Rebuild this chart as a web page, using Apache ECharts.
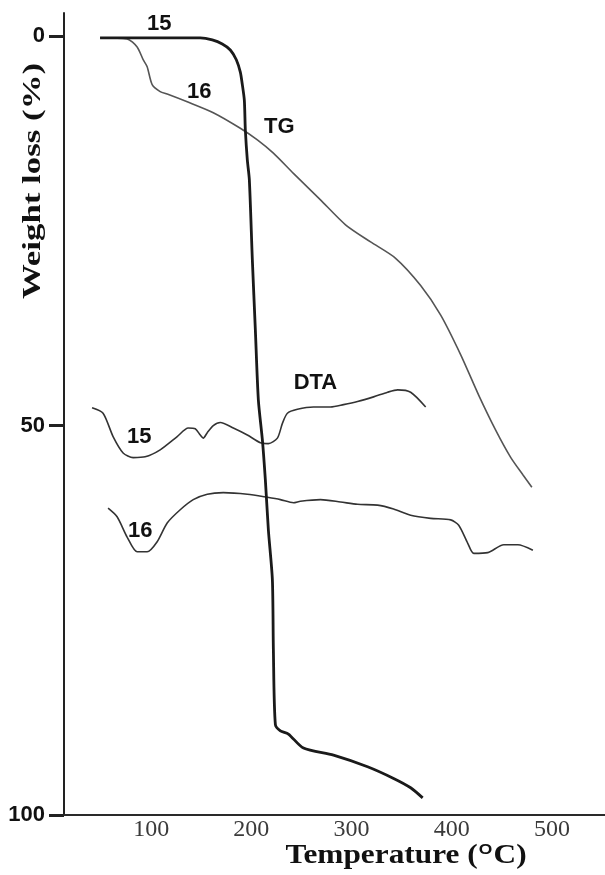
<!DOCTYPE html>
<html>
<head>
<meta charset="utf-8">
<script src="https://cdn.jsdelivr.net/npm/echarts@6/dist/echarts.min.js"></script>
<style>
  html, body { margin: 0; padding: 0; background: #fff; }
  #chart { width: 605px; height: 875px; }
</style>
</head>
<body>
<div id="chart"></div>
<script>
// Temperature (°C) vs. weight loss (%) for TG curves; DTA traces share the same frame.
const tg15 = [
  [49, 0.2], [99, 0.2], [149, 0.2], [161, 0.46], [171, 0.98], [179, 1.75], [185, 3.0],
  [189, 4.6], [191, 6.2], [193, 8.2], [194, 12.0], [196, 15.9], [198, 18.4], [201, 28.7],
  [204, 37.7], [207, 46.7], [211, 51.8], [214, 57.0], [217, 63.4], [221, 69.8], [222, 78.8],
  [224, 88.4], [229, 89.2], [237, 89.6], [252, 91.4], [282, 92.3], [316, 93.8], [342, 95.3],
  [359, 96.5], [371, 97.8]
];
const tg16 = [
  [49, 0.2], [76, 0.33], [86, 1.36], [92, 3.0], [96, 3.9], [101, 6.2], [109, 7.1], [116, 7.4],
  [136, 8.4], [162, 9.8], [189, 11.8], [206, 13.3], [222, 15.0], [242, 17.6], [269, 21.0],
  [294, 24.2], [319, 26.4], [344, 28.5], [369, 32.0], [389, 35.8], [409, 40.9], [427, 46.1],
  [444, 50.6], [459, 54.1], [471, 56.3], [480, 57.9]
];
const dta15 = [
  [41, 47.7], [52, 48.4], [62, 51.4], [72, 53.5], [82, 54.1], [94, 54.0], [109, 53.1],
  [126, 51.4], [137, 50.3], [144, 50.4], [149, 51.2], [152, 51.6], [156, 50.9], [162, 50.0],
  [169, 49.6], [182, 50.3], [196, 51.2], [209, 52.2], [217, 52.3], [226, 51.6], [231, 49.7],
  [236, 48.4], [246, 47.9], [262, 47.6], [279, 47.6], [292, 47.3], [306, 46.9], [322, 46.3],
  [336, 45.7], [346, 45.4], [359, 45.7], [374, 47.6]
];
const dta16 = [
  [57, 60.6], [66, 61.7], [76, 64.3], [86, 66.2], [96, 66.2], [106, 64.9], [116, 62.5],
  [129, 60.8], [142, 59.5], [156, 58.8], [172, 58.6], [196, 58.8], [216, 59.2], [229, 59.5],
  [242, 59.9], [249, 59.7], [269, 59.5], [289, 59.8], [306, 60.1], [326, 60.2], [342, 60.7],
  [359, 61.5], [379, 61.9], [399, 62.1], [407, 62.8], [416, 65.1], [422, 66.4], [436, 66.3],
  [452, 65.3], [466, 65.3], [481, 66.0]
];
const xTicks = [100, 200, 300, 400, 500];
const yTicks = [0, 50, 100];

// Curve annotations, placed in data units
const notes = [
  { text: '15', at: [108, -1.6] },
  { text: '16', at: [148, 7.1] },
  { text: 'TG', at: [228, 11.6] },
  { text: 'DTA', at: [264, 44.5] },
  { text: '15', at: [88, 51.4] },
  { text: '16', at: [89, 63.5] }
];

const chart = echarts.init(document.getElementById('chart'), null, { renderer: 'canvas' });

const lineSeries = (data, width, color, z) => ({
  type: 'line',
  data: data,
  showSymbol: false,
  smooth: 0.25,
  z: z,
  lineStyle: { width: width, color: color },
  emphasis: { disabled: true }
});

chart.setOption({
  animation: false,
  backgroundColor: '#fff',
  grid: { left: 64, right: 0, top: 13, bottom: 60 },
  xAxis: {
    type: 'value',
    position: 'bottom',
    min: 13,
    max: 553,
    axisLine: { onZero: false, lineStyle: { color: '#2a2a2a', width: 2 } },
    axisTick: { show: false },
    splitLine: { show: false },
    axisLabel: {
      customValues: xTicks,
      margin: 3,
      color: '#3a3a3a',
      fontFamily: 'Liberation Serif',
      fontSize: 24
    }
  },
  yAxis: {
    type: 'value',
    inverse: true,
    min: -3,
    max: 100,
    axisLine: { show: true, onZero: false, lineStyle: { color: '#222', width: 2 } },
    axisTick: { show: true, customValues: yTicks, length: 15, lineStyle: { color: '#222', width: 3 } },
    splitLine: { show: false },
    axisLabel: {
      customValues: yTicks,
      margin: 19,
      color: '#111',
      fontFamily: 'Liberation Sans',
      fontWeight: 'bold',
      fontSize: 22
    }
  },
  series: [
    lineSeries(tg16, 1.6, '#555', 2),
    lineSeries(dta15, 1.6, '#333', 2),
    lineSeries(dta16, 1.6, '#333', 2),
    lineSeries(tg15, 2.8, '#1a1a1a', 3)
  ]
});

const annotationFont = 'bold 22px "Liberation Sans", Arial, sans-serif';
const graphics = notes.map(n => {
  const p = chart.convertToPixel({ gridIndex: 0 }, n.at);
  return {
    type: 'text',
    x: p[0],
    y: p[1],
    z: 10,
    style: { text: n.text, font: annotationFont, fill: '#111', align: 'center', verticalAlign: 'middle' }
  };
});

// Vertical axis title, stretched along its reading direction
graphics.push({
  type: 'text',
  x: 33,
  y: 181,
  rotation: Math.PI / 2,
  scaleX: 1.34,
  style: {
    text: 'Weight loss (%)',
    font: 'bold 26px "Liberation Serif", "Times New Roman", serif',
    fill: '#111',
    align: 'center',
    verticalAlign: 'middle'
  }
});

graphics.push({
  type: 'text',
  x: 406,
  y: 856,
  scaleX: 1.16,
  style: {
    text: '{a|Temperature (}{s|O}{a|C)}',
    align: 'center',
    verticalAlign: 'middle',
    rich: {
      a: { font: 'bold 27px "Liberation Serif", "Times New Roman", serif', fill: '#111', color: '#111' },
      s: { font: 'bold 15px "Liberation Sans", Arial, sans-serif', fill: '#111', color: '#111', verticalAlign: 'top', padding: [0, 1, 12, 1] }
    }
  }
});

chart.setOption({ graphic: graphics });
</script>
</body>
</html>
